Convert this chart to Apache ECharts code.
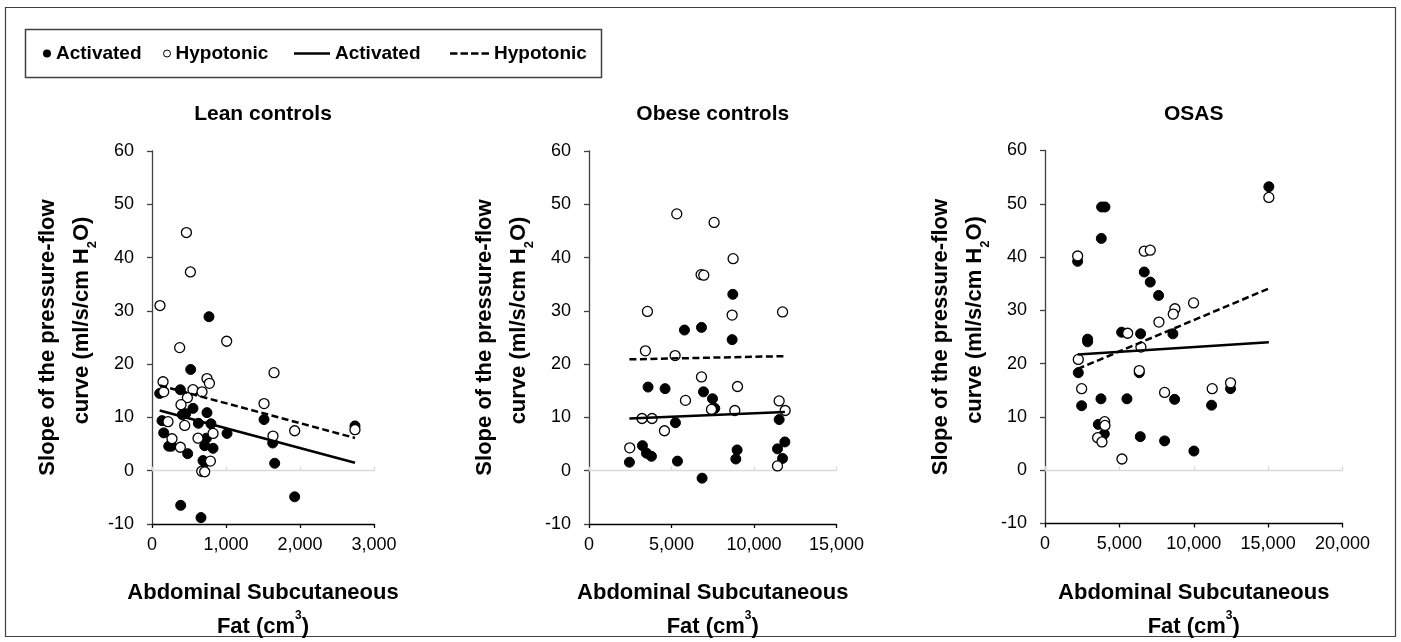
<!DOCTYPE html>
<html>
<head>
<meta charset="utf-8">
<script src="https://cdn.jsdelivr.net/npm/echarts@6/dist/echarts.min.js"></script>
<style>
html,body{margin:0;padding:0;background:#fff;}
#chart{width:1401px;height:642px;}
</style>
</head>
<body>
<div id="chart"></div>
<script>
// ---------- DATA ----------
const panelTitles = ['Lean controls', 'Obese controls', 'OSAS'];
const xMaxes = [3000, 15000, 20000];
const xIntervals = [1000, 5000, 5000];
const yMin = -10, yMax = 60, yInterval = 10;

// Lean controls  [fat cm3, slope]
const leanActivated = [[469,61.0],[770,28.9],[523,19.0],[104,14.5],[383,15.2],[554,11.7],[410,10.5],[455,10.7],
  [743,10.9],[135,9.4],[627,8.9],[797,8.8],[1514,9.6],[1014,7.0],[158,7.1],[735,6.1],[712,4.7],[825,4.2],
  [226,4.6],[262,4.6],[482,3.2],[689,1.9],[716,1.6],[1631,5.2],[1658,1.4],[2743,8.4],[388,-6.5],[662,-8.8],[1928,-4.9]];
const leanHypotonic = [[465,44.7],[519,37.3],[108,31.0],[374,23.1],[1009,24.3],[1649,18.4],[743,17.3],[776,16.4],
  [149,16.7],[158,14.8],[554,15.2],[676,14.8],[478,13.7],[392,12.4],[1514,12.6],[216,9.2],[442,8.5],[825,7.0],
  [270,6.0],[622,6.1],[1635,6.5],[1928,7.5],[2743,7.7],[383,4.4],[789,1.8],[672,-0.1],[712,-0.2]];
const leanActivatedTrend = [[104,11.3],[2743,1.5]];
const leanHypotonicTrend = [[108,16.0],[2743,6.15]];

// Obese controls
const obeseActivated = [[8716,33.1],[5785,26.4],[6817,26.9],[8675,24.6],[3579,15.7],[4610,15.4],[6939,14.8],[7485,13.5],
  [7624,11.7],[11524,9.6],[5240,9.0],[3239,4.7],[3482,3.3],[3785,2.7],[2450,1.6],[5362,1.8],[8977,3.9],[8898,2.2],
  [11870,5.4],[11424,4.1],[11730,2.3],[6854,-1.4]];
const obeseHypotonic = [[5320,48.2],[7582,46.6],[8734,39.8],[6793,36.8],[6957,36.7],[3541,29.9],[8675,29.2],[11730,29.8],
  [3420,22.5],[5218,21.6],[6817,17.6],[9000,15.8],[5847,13.2],[7424,11.5],[8837,11.3],[11524,13.1],[11888,11.3],
  [3215,9.8],[3821,9.8],[4573,7.5],[2469,4.3],[11424,0.9]];
const obeseActivatedTrend = [[2450,9.8],[11870,11.0]];
const obeseHypotonicTrend = [[2450,20.9],[11888,21.5]];

// OSAS
const osasActivated = [[15049,53.2],[3807,49.4],[4031,49.4],[3785,43.5],[2194,39.2],[6673,37.2],[7076,35.3],[7636,32.8],
  [2866,24.6],[2866,24.1],[5150,25.9],[6427,25.6],[8599,25.6],[2239,18.3],[6337,18.3],[12474,15.3],[3762,13.4],
  [5509,13.4],[8713,13.3],[2463,12.1],[11199,12.2],[3583,8.6],[3986,6.8],[6405,6.3],[8040,5.5],[10010,3.6]];
const osasHypotonic = [[15049,51.2],[2194,40.2],[6673,41.1],[7076,41.3],[9988,31.4],[8734,30.3],[8622,29.3],[7659,27.8],
  [5556,25.7],[6449,23.1],[2239,20.8],[6337,18.7],[2463,15.3],[8040,14.6],[11242,15.3],[12474,16.4],[4010,9.1],
  [4031,8.4],[3538,6.1],[3829,5.3],[5173,2.1]];
const osasActivatedTrend = [[2194,21.7],[15049,24.0]];
const osasHypotonicTrend = [[2194,19.0],[15049,34.1]];

const activatedSets = [leanActivated, obeseActivated, osasActivated];
const hypotonicSets = [leanHypotonic, obeseHypotonic, osasHypotonic];
const activatedTrends = [leanActivatedTrend, obeseActivatedTrend, osasActivatedTrend];
const hypotonicTrends = [leanHypotonicTrend, obeseHypotonicTrend, osasHypotonicTrend];

// ---------- LAYOUT / STYLE ----------
const FONT = "'Liberation Sans Narrow','Arial Narrow','Liberation Sans',Arial,sans-serif";
const grids = [
  {left:152, top:151, width:222, height:373},
  {left:589, top:151, width:247.5, height:373},
  {left:1045, top:150.5, width:297.5, height:373}
];

const chart = echarts.init(document.getElementById('chart'), null, {renderer:'canvas'});

const titles = [], xAxes = [], yAxes = [], series = [];
const fmt = v => v.toLocaleString('en-US');
const NAME_SIZE = 22;

grids.forEach((g, i) => {
  titles.push({
    text: panelTitles[i], left: g.left + g.width/2, top: 104, textAlign: 'center', padding: 0,
    textStyle: {fontFamily: FONT, fontSize: 21, fontWeight: 'bold', color: '#000'}
  });
  // bottom labelled axis
  xAxes.push({
    type: 'value', gridIndex: i, min: 0, max: xMaxes[i], interval: xIntervals[i], position: 'bottom',
    axisLine: {onZero: false, lineStyle: {color: '#000', width: 1.3}},
    axisTick: {show: true, length: 4, lineStyle: {color: '#000', width: 1.3}},
    axisLabel: {formatter: fmt, fontFamily: FONT, fontSize: 18, color: '#000', margin: 12},
    splitLine: {show: false},
    name: '{a|Abdominal Subcutaneous}\n{a|Fat (cm}{p|3}{a|)}',
    nameLocation: 'middle', nameGap: 52,
    nameTextStyle: {
      fontFamily: FONT, fontSize: NAME_SIZE, fontWeight: 'bold', color: '#000', lineHeight: 34,
      rich: {
        a: {fontFamily: FONT, fontSize: NAME_SIZE, fontWeight: 'bold', color: '#000', lineHeight: 34},
        p: {fontFamily: FONT, fontSize: 12, fontWeight: 'bold', color: '#000', lineHeight: 31, verticalAlign: 'top'}
      }
    }
  });
  // axis crossing at y = 0 (light grey line with small ticks)
  xAxes.push({
    type: 'value', gridIndex: i, min: 0, max: xMaxes[i], interval: xIntervals[i], position: 'top',
    axisLine: {onZero: true, lineStyle: {color: '#d9d9d9', width: 1.3}},
    axisTick: {show: true, length: 4, lineStyle: {color: '#d9d9d9', width: 1.3}},
    axisLabel: {show: false}, splitLine: {show: false}
  });
  yAxes.push({
    type: 'value', gridIndex: i, min: yMin, max: yMax, interval: yInterval,
    axisLine: {show: true, onZero: false, lineStyle: {color: '#404040', width: 1.3}},
    axisTick: {show: true, length: 5, lineStyle: {color: '#404040', width: 1.3}},
    axisLabel: {fontFamily: FONT, fontSize: 18, color: '#000', margin: 18},
    splitLine: {show: false},
    name: '{a|Slope of the pressure-flow}\n{b|curve (ml/s/cm H}{s|2}{a|O)}',
    nameLocation: 'middle', nameRotate: 90, nameGap: 53,
    nameTextStyle: {
      fontFamily: FONT, fontSize: NAME_SIZE, fontWeight: 'bold', color: '#000', lineHeight: 34,
      rich: {
        a: {fontFamily: FONT, fontSize: NAME_SIZE, fontWeight: 'bold', color: '#000', lineHeight: 34},
        b: {fontFamily: FONT, fontSize: NAME_SIZE, fontWeight: 'bold', color: '#000', lineHeight: 34, padding: [0, 0, 0, 34]},
        s: {fontFamily: FONT, fontSize: 13, fontWeight: 'bold', color: '#000', lineHeight: 20, verticalAlign: 'bottom'}
      }
    }
  });
  series.push({
    name: 'Activated', type: 'scatter', xAxisIndex: 2*i, yAxisIndex: i,
    data: activatedSets[i], symbol: 'circle', symbolSize: 10,
    itemStyle: {color: '#000', borderColor: '#000', borderWidth: 1, opacity: 1}, z: 3
  });
  series.push({
    name: 'Hypotonic', type: 'scatter', xAxisIndex: 2*i, yAxisIndex: i,
    data: hypotonicSets[i], symbol: 'circle', symbolSize: 10,
    itemStyle: {color: '#fff', borderColor: '#000', borderWidth: 1.3, opacity: 1}, z: 3
  });
  series.push({
    name: 'Activated trend', type: 'line', xAxisIndex: 2*i, yAxisIndex: i,
    data: activatedTrends[i], symbol: 'none', silent: true,
    lineStyle: {color: '#000', width: 2.5, type: 'solid'}, itemStyle: {color: '#000'}, z: 4
  });
  series.push({
    name: 'Hypotonic trend', type: 'line', xAxisIndex: 2*i, yAxisIndex: i,
    data: hypotonicTrends[i], symbol: 'none', silent: true,
    lineStyle: {color: '#000', width: 2.5, type: [7, 3.5]}, itemStyle: {color: '#000'}, z: 4
  });
});

const legendText = {fontFamily: FONT, fontSize: 19, fontWeight: 'bold', color: '#000'};
const legendBase = {top: 44, padding: 0, selectedMode: false, textStyle: legendText, formatter: n => n.split(' ')[0]};

chart.setOption({
  animation: false,
  backgroundColor: '#fff',
  title: titles,
  grid: grids.map(g => Object.assign({containLabel: false, outerBoundsMode: 'none'}, g)),
  xAxis: xAxes,
  yAxis: yAxes,
  legend: [
    Object.assign({}, legendBase, {data: [{name: 'Activated', icon: 'circle', itemStyle: {color: '#000', borderWidth: 0}}],
      left: 43, itemWidth: 8, itemHeight: 8}),
    Object.assign({}, legendBase, {data: [{name: 'Hypotonic', icon: 'circle', itemStyle: {color: '#fff', borderColor: '#000', borderWidth: 1}}],
      left: 163, itemWidth: 7, itemHeight: 7}),
    Object.assign({}, legendBase, {data: [{name: 'Activated trend', icon: 'path://M0,0h36v2.5h-36z', itemStyle: {color: '#000', borderWidth: 0}}],
      left: 294, itemWidth: 36, itemHeight: 2.5}),
    Object.assign({}, legendBase, {data: [{name: 'Hypotonic trend',
      icon: 'path://M0,0h7.5v2.5h-7.5z M10.5,0h7.5v2.5h-7.5z M21,0h7.5v2.5h-7.5z M31.5,0h7.5v2.5h-7.5z',
      itemStyle: {color: '#000', borderWidth: 0}}],
      left: 450, itemWidth: 39, itemHeight: 2.5})
  ],
  graphic: [
    {type: 'rect', shape: {x: 5.5, y: 7.5, width: 1390, height: 629}, style: {fill: 'none', stroke: '#404040', lineWidth: 1.2}, silent: true},
    {type: 'rect', shape: {x: 25.5, y: 29.5, width: 576, height: 48}, style: {fill: 'none', stroke: '#404040', lineWidth: 1.5}, silent: true}
  ],
  series: series
});
</script>
</body>
</html>
